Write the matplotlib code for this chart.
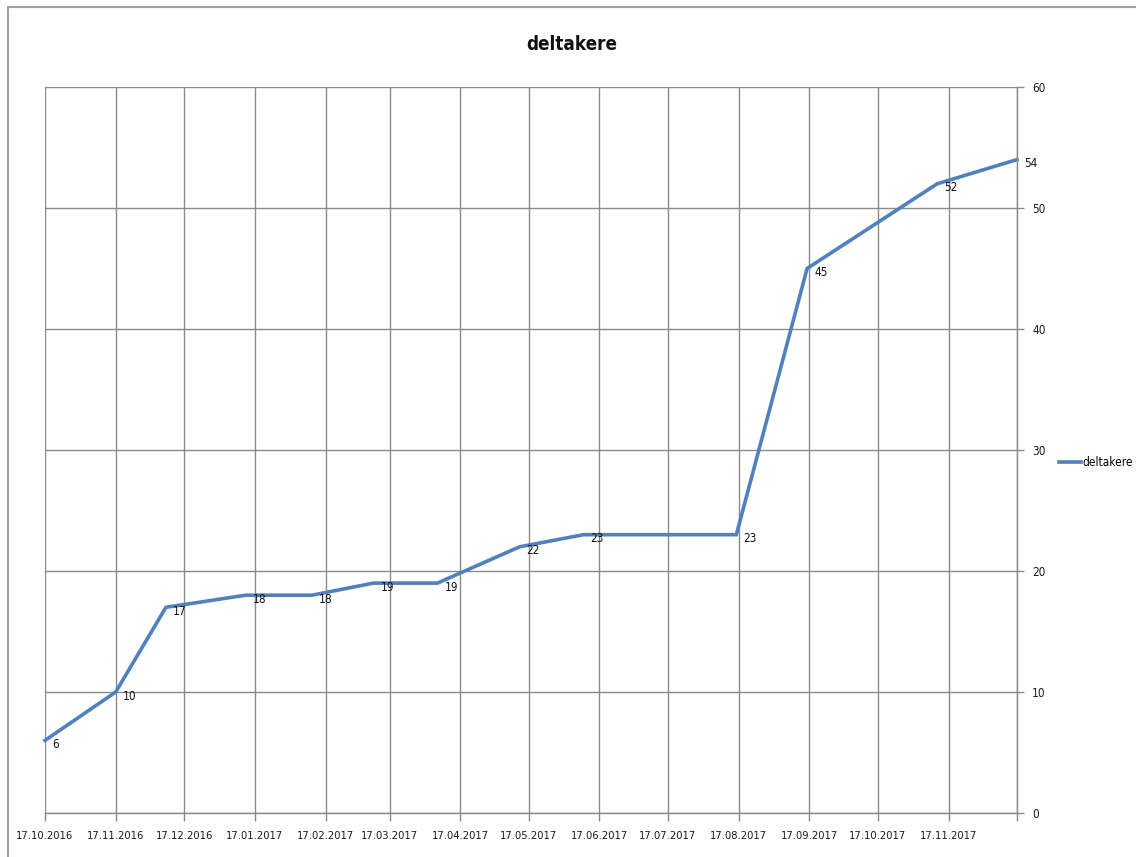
import matplotlib
matplotlib.use("Agg")
import matplotlib.pyplot as plt
import matplotlib.dates as mdates
from matplotlib.patches import Rectangle
import datetime as dt

dates = ["2016-10-17", "2016-11-17", "2016-12-09", "2017-01-13", "2017-02-11",
         "2017-03-10", "2017-04-07", "2017-05-13", "2017-06-10", "2017-08-16",
         "2017-09-16", "2017-11-12", "2017-12-17"]
values = [6, 10, 17, 18, 18, 19, 19, 22, 23, 23, 45, 52, 54]
tick_dates = ["2016-10-17", "2016-11-17", "2016-12-17", "2017-01-17", "2017-02-17",
              "2017-03-17", "2017-04-17", "2017-05-17", "2017-06-17", "2017-07-17",
              "2017-08-17", "2017-09-17", "2017-10-17", "2017-11-17", "2017-12-17"]
tick_labels = ["17.10.2016", "17.11.2016", "17.12.2016", "17.01.2017", "17.02.2017",
               "17.03.2017", "17.04.2017", "17.05.2017", "17.06.2017", "17.07.2017",
               "17.08.2017", "17.09.2017", "17.10.2017", "17.11.2017", ""]
y_ticks = [0, 10, 20, 30, 40, 50, 60]
title = "deltakere"
series_name = "deltakere"

plt.rcParams["font.family"] = ["DejaVu Sans"]
plt.rcParams["font.stretch"] = "condensed"

x = [dt.datetime.strptime(d, "%Y-%m-%d") for d in dates]
xt = [dt.datetime.strptime(d, "%Y-%m-%d") for d in tick_dates]

fig = plt.figure(figsize=(11.36, 8.57), dpi=100)
ax = fig.add_axes([45/1136, 44/857, (1017-45)/1136, (813-87)/857])

grid_c = "#8a8a8a"
ax.set_xlim(xt[0], xt[-1])
ax.set_ylim(0, 60)
ax.set_xticks(xt)
ax.set_xticklabels(tick_labels, fontsize=8, color="#1a1a1a")
ax.set_yticks(y_ticks)
ax.yaxis.tick_right()
ax.tick_params(axis="y", labelsize=8.5, length=5, color=grid_c, width=1.0, pad=6,
               labelcolor="#1a1a1a")
ax.tick_params(axis="x", length=6, color=grid_c, width=1.0, pad=7)
ax.grid(True, color=grid_c, linewidth=1.0)
ax.set_axisbelow(True)
for s in ["top", "left"]:
    ax.spines[s].set_visible(False)
ax.spines["bottom"].set_color(grid_c)
ax.spines["bottom"].set_linewidth(1.0)
ax.spines["right"].set_color(grid_c)
ax.spines["right"].set_linewidth(1.0)

line, = ax.plot(x, values, color="#4F81BD", linewidth=2.6, label=series_name,
                solid_joinstyle="miter", clip_on=False)
for xi, v in zip(x, values):
    ax.annotate(str(v), (xi, v), xytext=(5, -3), textcoords="offset points",
                ha="left", va="center", fontsize=8.5, color="#111111")

fig.text(572/1136, 1 - 44/857, title, ha="center", va="center",
         fontsize=13.5, fontweight="bold", color="#111111")

leg = fig.legend(handles=[line], labels=[series_name], loc="center left",
                 bbox_to_anchor=(1059/1136, 1 - 463/857), frameon=False,
                 fontsize=8.5, handlelength=1.9, handletextpad=0.1,
                 borderpad=0, borderaxespad=0)

fig.patches.append(Rectangle((8/1136, -0.05), 1.2, 1 - 7/857 + 0.05,
                             transform=fig.transFigure, fill=False,
                             edgecolor="#a0a0a0", linewidth=1.5))

fig.savefig("out.png", dpi=100)
